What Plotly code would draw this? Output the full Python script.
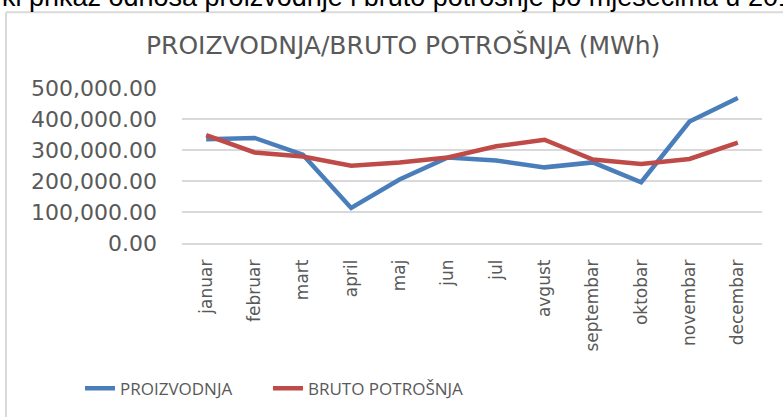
import plotly.graph_objects as go

months = ["januar", "februar", "mart", "april", "maj", "jun", "jul", "avgust",
          "septembar", "oktobar", "novembar", "decembar"]
proizvodnja = [335000, 339000, 285000, 113000, 205000, 276000, 266000, 244000,
               260000, 196000, 392000, 468000]
bruto_potrosnja = [348000, 292000, 279000, 249000, 260000, 276000, 312000, 333000,
                   269000, 255000, 271000, 324000]
series_names = ["PROIZVODNJA", "BRUTO POTROŠNJA"]
y_ticks = [0, 100000, 200000, 300000, 400000, 500000]
chart_title = "PROIZVODNJA/BRUTO POTROŠNJA (MWh)"
caption = "ki prikaz odnosa proizvodnje i bruto potrošnje po mjesecima u 201"

GRAY = "#595959"

fig = go.Figure()
fig.add_trace(go.Scatter(x=months, y=proizvodnja, name=series_names[0], mode="lines",
                         line=dict(color="#4A7EBB", width=4.5), legend="legend"))
fig.add_trace(go.Scatter(x=months, y=bruto_potrosnja, name=series_names[1], mode="lines",
                         line=dict(color="#BE4B48", width=4.5), legend="legend2"))

# plot area in pixels: x 182..762, y 88..243
L, R, T, B = 182, 762, 88.3, 243.3
W, H = 783, 417
def px(xp):
    return (xp - L) / (R - L)
def py(yp):
    return (B - yp) / (B - T)

legend_font = dict(family="Open Sans", size=17, color=GRAY)
fig.update_layout(
    width=W, height=H,
    margin=dict(l=L, r=W - R, t=T, b=H - B, autoexpand=False),
    paper_bgcolor="white", plot_bgcolor="white",
    font=dict(family="Open Sans", color=GRAY),
    showlegend=True,
    legend=dict(orientation="h", x=px(80), xanchor="left", y=py(389), yanchor="middle",
                font=legend_font, bgcolor="rgba(0,0,0,0)"),
    legend2=dict(orientation="h", x=px(268), xanchor="left", y=py(389), yanchor="middle",
                 font=legend_font, bgcolor="rgba(0,0,0,0)"),
    xaxis=dict(type="category", range=[-0.5, len(months) - 0.5], showgrid=False,
               showline=True, linecolor="#D9D9D9", linewidth=1.5, tickangle=-90,
               ticks="", ticklabelstandoff=8,
               tickfont=dict(family="DejaVu Sans", size=17, color=GRAY), fixedrange=True),
    yaxis=dict(range=[0, 500000], tickvals=y_ticks,
               tickformat=",.2f", showgrid=True, gridcolor="#D9D9D9", gridwidth=1.5,
               zeroline=False, showline=False, ticks="", ticklabelstandoff=24,
               tickfont=dict(family="DejaVu Sans", size=22, color=GRAY), fixedrange=True),
    annotations=[
        dict(text=chart_title, xref="paper", yref="paper", x=px(403), y=py(45),
             xanchor="center", yanchor="middle", showarrow=False,
             font=dict(family="DejaVu Sans", size=25, color=GRAY)),
        dict(text=caption, xref="paper", yref="paper", x=px(0), y=py(-3),
             xanchor="left", yanchor="middle", showarrow=False,
             font=dict(family="Liberation Sans", size=27, color="black")),
    ],
    shapes=[
        dict(type="line", xref="paper", yref="paper", x0=px(6), x1=px(6), y0=py(425), y1=py(12.5),
             line=dict(color="#D9D9D9", width=2)),
        dict(type="line", xref="paper", yref="paper", x0=px(6), x1=px(790), y0=py(12.5), y1=py(12.5),
             line=dict(color="#D9D9D9", width=2)),
    ],
)

fig.write_html("out.html", config={"displayModeBar": False},
               post_script="document.body.style.margin='0';")
